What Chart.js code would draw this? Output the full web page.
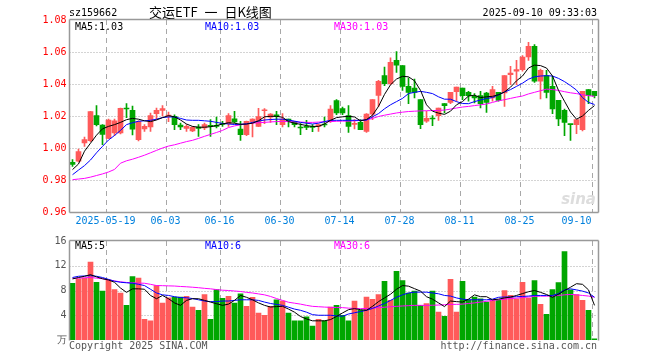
<!DOCTYPE html>
<html>
<head>
<meta charset="utf-8">
<script src="https://cdn.jsdelivr.net/npm/chart.js@4.4.0/dist/chart.umd.min.js"></script>
<style>
  body { margin: 0; background: #fff; }
  #wrap { position: relative; width: 660px; height: 360px; overflow: hidden; font-family: 'DejaVu Sans Mono', monospace; font-size: 10px; }
  canvas { position: absolute; left: 0; }
  #price { top: 0; }
  #vol { top: 232px; }
  .txt { position: absolute; white-space: pre; line-height: 12px; }
</style>
</head>
<body>
<div id="wrap">
  <canvas id="price" width="660" height="236"></canvas>
  <canvas id="vol" width="660" height="128"></canvas>
  <div class="txt" style="left:69px;top:7px;">sz159662</div>
  <div class="txt" style="left:149px;top:4px;font-family:'Noto Sans CJK SC';font-size:13px;line-height:16px;word-spacing:4px;">交运ETF 一 日K线图</div>
  <div class="txt" style="right:63px;top:7px;">2025-09-10 09:33:03</div>
  <div class="txt" id="lgMa5" style="left:75px;top:21px;color:#000;"></div>
  <div class="txt" id="lgMa10" style="left:205px;top:21px;color:#0000ff;"></div>
  <div class="txt" id="lgMa30" style="left:334px;top:21px;color:#ff00ff;"></div>
  <div class="txt" id="lgVol5" style="left:75px;top:240px;color:#000;"></div>
  <div class="txt" id="lgVol10" style="left:205px;top:240px;color:#0000ff;"></div>
  <div class="txt" id="lgVol30" style="left:334px;top:240px;color:#ff00ff;"></div>
  <div class="txt" style="right:64px;top:190px;font-family:'DejaVu Sans';font-style:italic;font-weight:bold;font-size:15px;line-height:18px;color:#dddddd;">sina</div>
  <div class="txt" style="left:69px;top:340px;color:#555;">Copyright 2025 SINA.COM</div>
  <div class="txt" style="right:63px;top:340px;color:#555;">http://finance.sina.com.cn</div>
</div>
<script>
const dates = [
  '05-09', '05-12', '05-13', '05-14', '05-15', '05-16', '05-19', '05-20', '05-21', '05-22',
  '05-23', '05-26', '05-27', '05-28', '05-29', '05-30', '06-03', '06-04', '06-05', '06-06',
  '06-09', '06-10', '06-11', '06-12', '06-13', '06-16', '06-17', '06-18', '06-19', '06-20',
  '06-23', '06-24', '06-25', '06-26', '06-27', '06-30', '07-01', '07-02', '07-03', '07-04',
  '07-07', '07-08', '07-09', '07-10', '07-11', '07-14', '07-15', '07-16', '07-17', '07-18',
  '07-21', '07-22', '07-23', '07-24', '07-25', '07-28', '07-29', '07-30', '07-31', '08-01',
  '08-04', '08-05', '08-06', '08-07', '08-08', '08-11', '08-12', '08-13', '08-14', '08-15',
  '08-18', '08-19', '08-20', '08-21', '08-22', '08-25', '08-26', '08-27', '08-28', '08-29',
  '09-01', '09-02', '09-03', '09-04', '09-05', '09-08', '09-09', '09-10'
];
const tickLabels = ['2025-05-19', '06-03', '06-16', '06-30', '07-14', '07-28', '08-11', '08-25', '09-10'];
const priceTicks = [0.96, 0.98, 1.00, 1.02, 1.04, 1.06, 1.08];
const volTicks = [0, 4, 8, 12, 16];

const opens = [
  0.9910, 0.9917, 1.0031, 1.0046, 1.0202, 1.0144, 1.0060, 1.0095, 1.0095, 1.0250,
  1.0235, 1.0052, 1.0119, 1.0131, 1.0215, 1.0235, 1.0200, 1.0198, 1.0144, 1.0123,
  1.0106, 1.0131, 1.0125, 1.0137, 1.0142, 1.0152, 1.0152, 1.0183, 1.0119, 1.0083,
  1.0163, 1.0135, 1.0233, 1.0192, 1.0208, 1.0146, 1.0181, 1.0167, 1.0127, 1.0131,
  1.0131, 1.0135, 1.0148, 1.0167, 1.0296, 1.0246, 1.0202, 1.0148, 1.0160, 1.0104,
  1.0212, 1.0329, 1.0452, 1.0402, 1.0548, 1.0515, 1.0385, 1.0375, 1.0302, 1.0167,
  1.0183, 1.0202, 1.0277, 1.0285, 1.0352, 1.0375, 1.0348, 1.0323, 1.0327, 1.0344,
  1.0313, 1.0348, 1.0344, 1.0458, 1.0480, 1.0490, 1.0569, 1.0635, 1.0417, 1.0452,
  1.0385, 1.0298, 1.0235, 1.0148, 1.0146, 1.0115, 1.0365, 1.0354
];
const highs = [
  0.9927, 0.9994, 1.0069, 1.0229, 1.0265, 1.0146, 1.0180, 1.0180, 1.0250, 1.0277,
  1.0262, 1.0170, 1.0146, 1.0219, 1.0250, 1.0265, 1.0225, 1.0208, 1.0156, 1.0146,
  1.0135, 1.0146, 1.0156, 1.0177, 1.0194, 1.0167, 1.0215, 1.0229, 1.0167, 1.0169,
  1.0183, 1.0248, 1.0246, 1.0215, 1.0229, 1.0215, 1.0181, 1.0167, 1.0152, 1.0173,
  1.0146, 1.0150, 1.0194, 1.0265, 1.0302, 1.0256, 1.0265, 1.0177, 1.0177, 1.0215,
  1.0302, 1.0423, 1.0506, 1.0563, 1.0602, 1.0515, 1.0438, 1.0431, 1.0302, 1.0229,
  1.0202, 1.0250, 1.0277, 1.0348, 1.0381, 1.0375, 1.0354, 1.0340, 1.0354, 1.0348,
  1.0385, 1.0348, 1.0452, 1.0510, 1.0548, 1.0577, 1.0660, 1.0646, 1.0494, 1.0485,
  1.0448, 1.0298, 1.0244, 1.0148, 1.0177, 1.0354, 1.0365, 1.0354
];
const lows = [
  0.9885, 0.9913, 1.0010, 1.0040, 1.0138, 1.0021, 1.0058, 1.0077, 1.0088, 1.0190,
  1.0081, 1.0045, 1.0104, 1.0104, 1.0180, 1.0200, 1.0165, 1.0115, 1.0115, 1.0104,
  1.0102, 1.0073, 1.0115, 1.0073, 1.0125, 1.0135, 1.0135, 1.0156, 1.0048, 1.0077,
  1.0070, 1.0133, 1.0152, 1.0160, 1.0146, 1.0131, 1.0131, 1.0131, 1.0083, 1.0115,
  1.0102, 1.0104, 1.0131, 1.0160, 1.0208, 1.0208, 1.0098, 1.0119, 1.0115, 1.0098,
  1.0177, 1.0258, 1.0390, 1.0396, 1.0473, 1.0360, 1.0277, 1.0313, 1.0121, 1.0160,
  1.0140, 1.0173, 1.0219, 1.0277, 1.0292, 1.0302, 1.0292, 1.0281, 1.0250, 1.0223,
  1.0292, 1.0292, 1.0260, 1.0396, 1.0396, 1.0480, 1.0548, 1.0410, 1.0306, 1.0313,
  1.0215, 1.0140, 1.0077, 1.0048, 1.0090, 1.0106, 1.0277, 1.0313
];
const closes = [
  0.9898, 0.9977, 1.0052, 1.0227, 1.0146, 1.0085, 1.0175, 1.0170, 1.0248, 1.0244,
  1.0117, 1.0165, 1.0135, 1.0202, 1.0235, 1.0246, 1.0205, 1.0146, 1.0131, 1.0135,
  1.0129, 1.0123, 1.0146, 1.0135, 1.0135, 1.0148, 1.0202, 1.0163, 1.0083, 1.0167,
  1.0181, 1.0196, 1.0235, 1.0212, 1.0198, 1.0181, 1.0167, 1.0146, 1.0125, 1.0129,
  1.0129, 1.0146, 1.0144, 1.0244, 1.0219, 1.0219, 1.0135, 1.0150, 1.0115, 1.0212,
  1.0302, 1.0417, 1.0402, 1.0535, 1.0517, 1.0385, 1.0348, 1.0348, 1.0146, 1.0185,
  1.0181, 1.0250, 1.0265, 1.0348, 1.0381, 1.0327, 1.0327, 1.0313, 1.0277, 1.0285,
  1.0365, 1.0298, 1.0452, 1.0469, 1.0490, 1.0569, 1.0635, 1.0417, 1.0485, 1.0348,
  1.0244, 1.0181, 1.0160, 1.0146, 1.0177, 1.0354, 1.0327, 1.0327
];
const ma5 = [
  0.9865, 0.9900, 0.9980, 1.0030, 1.0080, 1.0120, 1.0135, 1.0146, 1.0160, 1.0177,
  1.0185, 1.0180, 1.0170, 1.0165, 1.0175, 1.0190, 1.0202, 1.0195, 1.0175, 1.0150,
  1.0135, 1.0130, 1.0130, 1.0133, 1.0140, 1.0150, 1.0158, 1.0155, 1.0148, 1.0150,
  1.0155, 1.0170, 1.0195, 1.0198, 1.0198, 1.0192, 1.0165, 1.0155, 1.0148, 1.0140,
  1.0135, 1.0135, 1.0150, 1.0173, 1.0190, 1.0195, 1.0198, 1.0194, 1.0170, 1.0178,
  1.0205, 1.0260, 1.0335, 1.0395, 1.0431, 1.0448, 1.0445, 1.0420, 1.0360, 1.0270,
  1.0230, 1.0218, 1.0210, 1.0230, 1.0270, 1.0290, 1.0325, 1.0330, 1.0315, 1.0320,
  1.0323, 1.0333, 1.0350, 1.0380, 1.0420, 1.0450, 1.0500, 1.0518, 1.0515, 1.0500,
  1.0450, 1.0360, 1.0292, 1.0225, 1.0180, 1.0200, 1.0235, 1.0265
];
const ma10 = [
  0.9833, 0.9862, 0.9890, 0.9925, 0.9970, 1.0010, 1.0050, 1.0078, 1.0110, 1.0146,
  1.0158, 1.0167, 1.0170, 1.0173, 1.0180, 1.0190, 1.0194, 1.0194, 1.0185, 1.0175,
  1.0173, 1.0173, 1.0170, 1.0167, 1.0160, 1.0154, 1.0150, 1.0147, 1.0148, 1.0150,
  1.0160, 1.0168, 1.0175, 1.0178, 1.0180, 1.0180, 1.0175, 1.0168, 1.0160, 1.0155,
  1.0150, 1.0155, 1.0165, 1.0173, 1.0173, 1.0173, 1.0173, 1.0173, 1.0173, 1.0175,
  1.0195, 1.0215, 1.0245, 1.0270, 1.0290, 1.0310, 1.0340, 1.0348, 1.0354, 1.0348,
  1.0340, 1.0320, 1.0305, 1.0305, 1.0290, 1.0278, 1.0277, 1.0290, 1.0300, 1.0310,
  1.0315, 1.0333, 1.0350, 1.0365, 1.0385, 1.0405, 1.0430, 1.0445, 1.0450, 1.0452,
  1.0450, 1.0435, 1.0415, 1.0390, 1.0362, 1.0315, 1.0285, 1.0272
];
const ma30 = [
  0.9802, 0.9806, 0.9810, 0.9818, 0.9828, 0.9838, 0.9850, 0.9866, 0.9905, 0.9920,
  0.9930, 0.9942, 0.9955, 0.9970, 0.9985, 1.0000, 1.0012, 1.0020, 1.0030, 1.0040,
  1.0048, 1.0060, 1.0073, 1.0085, 1.0097, 1.0110, 1.0128, 1.0138, 1.0145, 1.0152,
  1.0155, 1.0158, 1.0160, 1.0163, 1.0165, 1.0167, 1.0165, 1.0163, 1.0162, 1.0160,
  1.0160, 1.0162, 1.0164, 1.0165, 1.0167, 1.0168, 1.0168, 1.0170, 1.0172, 1.0175,
  1.0185, 1.0197, 1.0205, 1.0212, 1.0219, 1.0224, 1.0228, 1.0230, 1.0232, 1.0233,
  1.0234, 1.0235, 1.0237, 1.0243, 1.0250, 1.0256, 1.0260, 1.0265, 1.0270, 1.0275,
  1.0285, 1.0295, 1.0302, 1.0310, 1.0318, 1.0325, 1.0338, 1.0348, 1.0358, 1.0368,
  1.0365, 1.0360, 1.0352, 1.0345, 1.0340, 1.0333, 1.0327, 1.0323
];
// volume in 万手
const volumes = [
  9.17, 9.87, 10.0, 12.6, 9.33, 7.9, 9.7, 8.16, 7.57, 5.6,
  10.24, 10.0, 3.36, 3.1, 8.8, 5.97, 6.83, 6.93, 6.93, 7.04,
  5.33, 4.8, 7.36, 3.36, 8.16, 6.72, 7.04, 5.97, 7.47, 5.44,
  6.9, 4.37, 4.0, 5.44, 6.5, 6.3, 4.37, 3.1, 3.1, 3.73,
  2.24, 3.36, 3.1, 5.33, 5.6, 4.0, 3.1, 6.3, 4.8, 6.93,
  6.56, 7.36, 9.5, 6.4, 11.1, 9.6, 7.57, 7.9, 5.6, 5.87,
  7.9, 4.53, 3.84, 9.8, 4.53, 9.5, 6.5, 6.93, 6.67, 6.13,
  6.4, 6.4, 8.0, 7.2, 6.67, 9.33, 6.77, 9.6, 5.76, 4.16,
  8.16, 9.28, 14.3, 8.1, 7.36, 6.4, 4.8, 0.2
];
const volMa5 = [
  9.87, 10.1, 10.3, 10.56, 10.2, 9.9, 9.7, 9.33, 8.4, 7.7,
  8.27, 8.27, 8.2, 7.2, 6.67, 7.2, 6.67, 6.0, 5.6, 6.4,
  6.67, 6.67, 6.4, 6.13, 5.87, 5.6, 5.8, 6.4, 7.2, 6.9,
  6.5, 6.0, 5.6, 5.33, 5.4, 5.44, 5.0, 4.5, 3.8, 3.4,
  3.1, 3.1, 3.1, 3.3, 3.8, 4.37, 4.9, 5.07, 4.9, 4.8,
  5.44, 6.2, 6.8, 7.4, 8.2, 8.8, 8.7, 8.3, 7.9, 7.0,
  6.6, 6.0, 5.4, 6.3, 6.2, 6.13, 6.6, 7.3, 7.0, 7.0,
  6.5, 6.6, 6.8, 6.93, 7.2, 7.5, 7.8, 8.0, 7.7, 7.36,
  6.9, 7.4, 8.0, 8.53, 9.1, 9.0, 8.1, 5.6
];
const volMa10 = [
  10.1, 10.3, 10.35, 10.4, 10.3, 10.1, 9.8, 9.5, 9.33, 9.25,
  9.17, 9.0, 8.8, 8.2, 7.6, 7.3, 7.2, 7.0, 6.85, 6.83,
  6.7, 6.5, 6.3, 6.2, 6.2, 6.3, 6.3, 6.4, 6.5, 6.5,
  6.5, 6.4, 6.13, 5.9, 5.75, 5.6, 5.3, 5.0, 4.8, 4.5,
  4.1, 4.0, 4.0, 4.0, 3.9, 3.84, 4.2, 4.4, 4.6, 4.8,
  5.1, 5.5, 5.9, 6.4, 6.9, 7.3, 7.6, 7.73, 7.73, 7.73,
  7.6, 7.47, 7.2, 7.1, 6.8, 6.6, 6.5, 6.5, 6.5, 6.5,
  6.6, 6.9, 6.95, 6.95, 7.0, 7.04, 7.1, 7.2, 7.2, 7.2,
  7.2, 7.5, 8.1, 8.27, 8.1, 7.9, 7.6, 6.9
];
const volMa30 = [
  9.97, 10.0, 10.05, 10.1, 10.0, 9.9, 9.7, 9.55, 9.4, 9.3,
  9.25, 9.2, 9.17, 9.0, 8.8, 8.78, 8.75, 8.72, 8.65, 8.6,
  8.53, 8.45, 8.35, 8.27, 8.15, 8.05, 8.0, 7.92, 7.84, 7.7,
  7.6, 7.45, 7.3, 7.04, 6.7, 6.4, 6.1, 5.95, 5.8, 5.6,
  5.44, 5.38, 5.32, 5.28, 5.25, 5.23, 5.15, 5.1, 5.07, 5.1,
  5.15, 5.23, 5.3, 5.38, 5.44, 5.5, 5.55, 5.6, 5.6, 5.6,
  5.62, 5.65, 5.7, 5.76, 5.76, 5.8, 5.9, 6.0, 6.13, 6.25,
  6.4, 6.5, 6.6, 6.7, 6.77, 6.85, 6.95, 7.05, 7.09, 7.09,
  7.1, 7.2, 7.3, 7.36, 7.3, 7.2, 7.1, 6.93
];

const UP = '#ff5a5a';
const DOWN = '#00a600';
const GRID = '#a8a8a8';
const FRAME = '#999999';
const MONO = "'DejaVu Sans Mono', monospace";

const candleColors = closes.map((c, i) => c >= opens[i] ? UP : DOWN);
const wicks = lows.map((l, i) => [l, highs[i]]);
const bodies = opens.map((o, i) => [Math.min(o, closes[i]), Math.max(o, closes[i])]);

function tickLabelFor(i) {
  const d = dates[i];
  if (!d) return null;
  return tickLabels.find(t => t.endsWith(d)) || null;
}

// dotted price lines and dashed date lines, placed by the chart's own scales
function gridPlugin(yTicks) {
  return {
    id: 'kgrid',
    beforeDatasetsDraw(chart) {
      const { ctx, chartArea: a, scales } = chart;
      const x = scales.x, y = scales.y;
      const slot = (a.right - a.left) / dates.length;
      ctx.save();
      ctx.strokeStyle = GRID;
      ctx.lineWidth = 1;
      ctx.setLineDash([1, 2]);
      ctx.beginPath();
      yTicks.slice(1, -1).forEach(v => {
        const py = Math.round(y.getPixelForValue(v)) + 0.5;
        ctx.moveTo(a.left, py);
        ctx.lineTo(a.right, py);
      });
      ctx.stroke();
      ctx.setLineDash([5, 4]);
      ctx.beginPath();
      dates.forEach((d, i) => {
        if (!tickLabelFor(i)) return;
        const px = Math.round(x.getPixelForValue(i) - slot / 2) + 0.5;
        ctx.moveTo(px, a.top);
        ctx.lineTo(px, a.bottom);
      });
      ctx.stroke();
      ctx.restore();
    }
  };
}

// gray box round the plot area
function framePlugin(sides) {
  return {
    id: 'frame',
    afterDraw(chart) {
      const { ctx, chartArea: a } = chart;
      const l = Math.round(a.left) - 0.5, r = Math.round(a.right) + 0.5;
      const t = Math.round(a.top) - 0.5, b = Math.round(a.bottom) + 0.5;
      ctx.save();
      ctx.strokeStyle = FRAME;
      ctx.lineWidth = 1.5;
      ctx.beginPath();
      if (sides.includes('t')) { ctx.moveTo(l, t); ctx.lineTo(r, t); }
      if (sides.includes('b')) { ctx.moveTo(l, b); ctx.lineTo(r, b); }
      if (sides.includes('l')) { ctx.moveTo(l, t); ctx.lineTo(l, b); }
      if (sides.includes('r')) { ctx.moveTo(r, t); ctx.lineTo(r, b); }
      ctx.stroke();
      ctx.restore();
    }
  };
}

function lineSet(data, color) {
  return { type: 'line', data: data, borderColor: color, borderWidth: 1, pointRadius: 0, tension: 0, order: 0 };
}

function xScale(showLabels) {
  return {
    offset: true,
    grid: { display: false, drawTicks: false },
    border: { display: false },
    ticks: {
      display: showLabels,
      autoSkip: false,
      maxRotation: 0,
      labelOffset: -3,
      padding: 3,
      color: '#0080dd',
      font: { family: MONO, size: 10 },
      callback: (v, i) => {
        const t = tickLabelFor(i);
        if (!t) return '';
        return i === dates.length - 1 ? t + '     ' : t;
      }
    },
    afterFit: s => { s.height = showLabels ? 24 : 20; }
  };
}

Chart.defaults.font.family = MONO;

new Chart(document.getElementById('price'), {
  type: 'bar',
  data: {
    labels: dates,
    datasets: [
      lineSet(ma5, '#000000'),
      lineSet(ma10, '#0000ff'),
      lineSet(ma30, '#ff00ff'),
      { data: wicks, backgroundColor: candleColors, barThickness: 1, grouped: false, order: 2 },
      { data: bodies, backgroundColor: candleColors, barThickness: 5, grouped: false, minBarLength: 1, order: 1 }
    ]
  },
  options: {
    responsive: false,
    animation: false,
    events: [],
    layout: { padding: { top: 20, right: 62.5, left: 0, bottom: 0 } },
    plugins: { legend: { display: false }, tooltip: { enabled: false } },
    scales: {
      x: xScale(true),
      y: {
        min: priceTicks[0],
        max: priceTicks[priceTicks.length - 1],
        afterBuildTicks: s => { s.ticks = priceTicks.map(v => ({ value: v })); },
        grid: { display: false, drawTicks: false },
        border: { display: false },
        ticks: {
          color: '#ff0000',
          padding: 3,
          font: { family: MONO, size: 10 },
          callback: v => v.toFixed(2)
        },
        afterFit: s => { s.width = 69.5; }
      }
    }
  },
  plugins: [gridPlugin(priceTicks), framePlugin('tblr')]
});

new Chart(document.getElementById('vol'), {
  type: 'bar',
  data: {
    labels: dates,
    datasets: [
      lineSet(volMa5, '#000000'),
      lineSet(volMa10, '#0000ff'),
      lineSet(volMa30, '#ff00ff'),
      { data: volumes, backgroundColor: candleColors, barThickness: 5, grouped: false, order: 1 }
    ]
  },
  options: {
    responsive: false,
    animation: false,
    events: [],
    layout: { padding: { top: 8, right: 62.5, left: 0, bottom: 0 } },
    plugins: { legend: { display: false }, tooltip: { enabled: false } },
    scales: {
      x: xScale(false),
      y: {
        min: volTicks[0],
        max: volTicks[volTicks.length - 1],
        afterBuildTicks: s => { s.ticks = volTicks.map(v => ({ value: v })); },
        grid: { display: false, drawTicks: false },
        border: { display: false },
        ticks: {
          color: '#555555',
          padding: 3,
          font: { family: MONO, size: 10 },
          callback: v => v === 0 ? '万' : String(v)
        },
        afterFit: s => { s.width = 69.5; }
      }
    }
  },
  plugins: [gridPlugin(volTicks), framePlugin('tlr')]
});

const last = a => a[a.length - 1];
document.getElementById('lgMa5').textContent = 'MA5:' + last(ma5).toFixed(2);
document.getElementById('lgMa10').textContent = 'MA10:' + last(ma10).toFixed(2);
document.getElementById('lgMa30').textContent = 'MA30:' + last(ma30).toFixed(2);
document.getElementById('lgVol5').textContent = 'MA5:' + Math.floor(last(volMa5));
document.getElementById('lgVol10').textContent = 'MA10:' + Math.floor(last(volMa10));
document.getElementById('lgVol30').textContent = 'MA30:' + Math.floor(last(volMa30));
</script>
</body>
</html>
